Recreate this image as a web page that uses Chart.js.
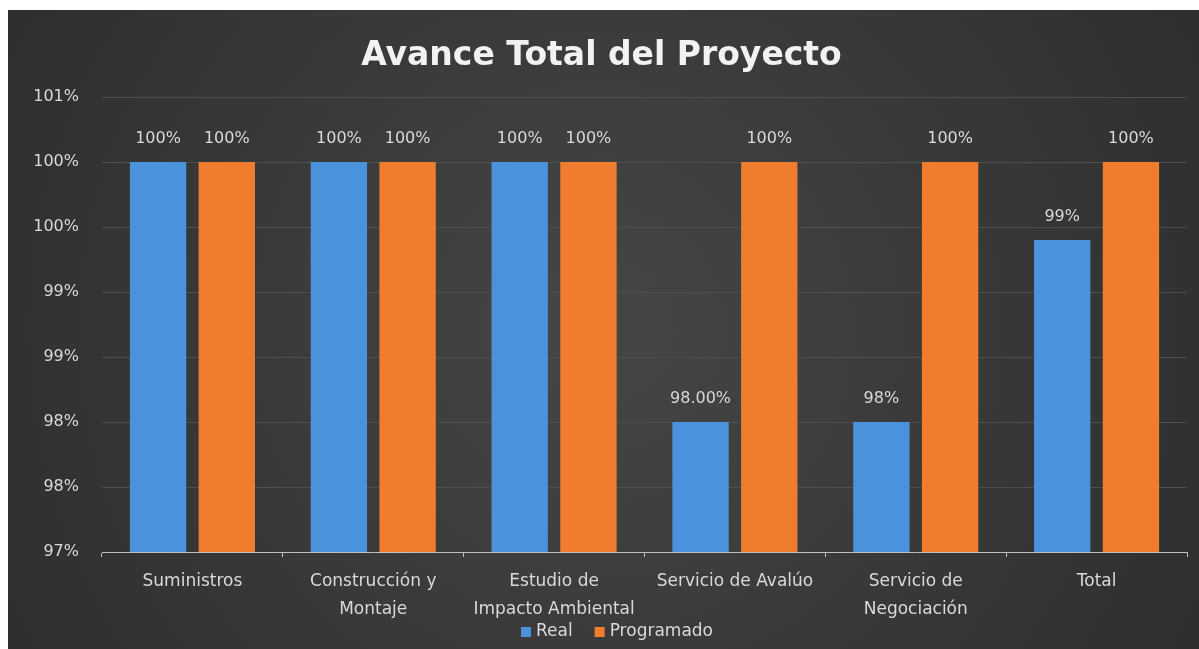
<!DOCTYPE html>
<html>
<head>
<meta charset="utf-8">
<script src="https://cdn.jsdelivr.net/npm/chart.js@4.4.1/dist/chart.umd.min.js"></script>
<style>
  html, body { margin: 0; padding: 0; background: #ffffff; }
  #wrap { position: absolute; left: 8px; top: 10px; width: 1191px; height: 639px; }
  canvas { display: block; }
</style>
</head>
<body>
<div id="wrap"><canvas id="c" width="1191" height="639"></canvas></div>
<script>
const chartTitle = 'Avance Total del Proyecto';
const categories = [
  'Suministros',
  ['Construcción y', 'Montaje'],
  ['Estudio de', 'Impacto Ambiental'],
  'Servicio de Avalúo',
  ['Servicio de', 'Negociación'],
  'Total'
];
const seriesNames = ['Real', 'Programado'];
const realValues = [100, 100, 100, 98, 98, 99.4];
const programadoValues = [100, 100, 100, 100, 100, 100];
const realLabels = ['100%', '100%', '100%', '98.00%', '98%', '99%'];
const programadoLabels = ['100%', '100%', '100%', '100%', '100%', '100%'];
const yMin = 97, yMax = 100.5, yStep = 0.5;

const textColor = '#d9d9d9';
const fontFamily = '"DejaVu Sans", sans-serif';

const bgPlugin = {
  id: 'bg',
  beforeDraw(chart) {
    const { ctx, width, height } = chart;
    const g = ctx.createRadialGradient(width * 0.5, height * 0.5, 50, width * 0.5, height * 0.5, width * 0.62);
    g.addColorStop(0, '#444444');
    g.addColorStop(1, '#2c2c2c');
    ctx.save();
    ctx.fillStyle = g;
    ctx.fillRect(0, 0, width, height);
    ctx.restore();
  }
};

const decorPlugin = {
  id: 'decor',
  afterDatasetsDraw(chart) {
    const { ctx } = chart;
    ctx.save();
    // data labels
    ctx.fillStyle = textColor;
    ctx.font = '16px ' + fontFamily;
    ctx.textAlign = 'center';
    ctx.textBaseline = 'middle';
    chart.data.datasets.forEach((ds, di) => {
      const meta = chart.getDatasetMeta(di);
      meta.data.forEach((bar, i) => {
        ctx.fillText(ds.valueLabels[i], bar.x, bar.y - 23);
      });
    });
    // title
    ctx.fillStyle = '#f2f2f2';
    ctx.font = 'bold 33px ' + fontFamily;
    ctx.textBaseline = 'alphabetic';
    ctx.fillText(chartTitle, chart.width / 2 - 2, 55);
    // legend
    ctx.font = '17px ' + fontFamily;
    ctx.textAlign = 'left';
    ctx.textBaseline = 'middle';
    const box = 10, gapBox = 5, gapItem = 22;
    const widths = chart.data.datasets.map(ds => box + gapBox + ctx.measureText(ds.label).width);
    const total = widths.reduce((a, b) => a + b, 0) + gapItem * (widths.length - 1);
    let x = 609 - total / 2;
    const y = 622;
    chart.data.datasets.forEach((ds, di) => {
      ctx.fillStyle = ds.backgroundColor;
      ctx.fillRect(x, y - box / 2, box, box);
      ctx.fillStyle = textColor;
      ctx.fillText(ds.label, x + box + gapBox, y);
      x += widths[di] + gapItem;
    });
    ctx.restore();
  }
};

new Chart(document.getElementById('c'), {
  type: 'bar',
  data: {
    labels: categories,
    datasets: [
      { label: seriesNames[0], data: realValues, valueLabels: realLabels, backgroundColor: '#4a93dc' },
      { label: seriesNames[1], data: programadoValues, valueLabels: programadoLabels, backgroundColor: '#f07d2e' }
    ]
  },
  options: {
    responsive: false,
    animation: false,
    layout: { padding: { top: 87, right: 12, left: 0, bottom: 0 } },
    datasets: { bar: { categoryPercentage: 0.76, barPercentage: 0.82 } },
    plugins: { legend: { display: false }, title: { display: false }, tooltip: { enabled: false } },
    scales: {
      x: {
        grid: { drawOnChartArea: false, drawTicks: true, tickLength: 5, color: '#bfbfbf' },
        border: { display: true, color: '#bfbfbf', width: 1 },
        ticks: { color: textColor, font: { size: 17, family: fontFamily, lineHeight: 1.65 }, padding: 11, maxRotation: 0, autoSkip: false },
        afterFit(scale) { scale.height = 97; }
      },
      y: {
        min: yMin, max: yMax,
        grid: { color: '#4e4e4e', drawTicks: false },
        border: { display: false },
        ticks: { stepSize: yStep, color: textColor, padding: 23, font: { size: 16, family: fontFamily },
          callback: v => Math.round(v) + '%' },
        afterFit(scale) { scale.width = 94; }
      }
    }
  },
  plugins: [bgPlugin, decorPlugin]
});
</script>
</body>
</html>
